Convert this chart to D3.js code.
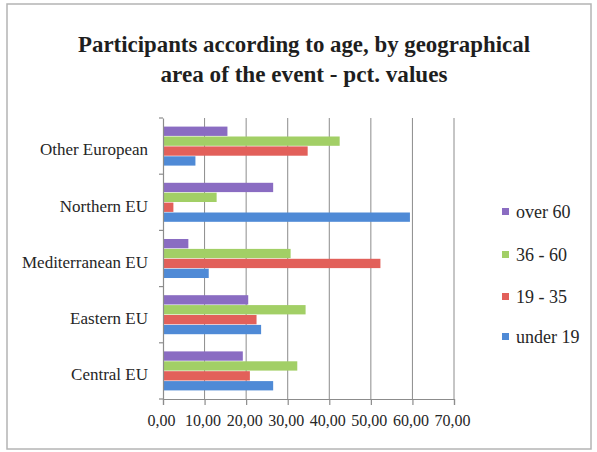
<!DOCTYPE html>
<html>
<head>
<meta charset="utf-8">
<script src="https://cdn.jsdelivr.net/npm/d3@7"></script>
<style>
  html, body { margin: 0; padding: 0; background: #fff; }
  svg { display: block; }
  svg text { font-family: "Liberation Serif", "DejaVu Serif", serif; fill: #262626; }
</style>
</head>
<body>
<div id="chart"></div>
<script>
// ---- data ----
const categories = ["Central EU", "Eastern EU", "Mediterranean EU", "Northern EU", "Other European"];
const seriesNames = ["over 60", "36 - 60", "19 - 35", "under 19"];
const over60   = [19.2, 20.5, 6.1, 26.5, 15.5];
const age36_60 = [32.3, 34.3, 30.7, 12.9, 42.5];
const age19_35 = [20.9, 22.5, 52.3, 2.5, 34.8];
const under19  = [26.5, 23.6, 11.0, 59.4, 7.8];
const xTicks = [0, 10, 20, 30, 40, 50, 60, 70];
const xTickLabels = ["0,00", "10,00", "20,00", "30,00", "40,00", "50,00", "60,00", "70,00"];
const titleLines = ["Participants according to age, by geographical", "area of the event - pct. values"];
const colors = ["#8a6cc2", "#a2cf66", "#e2605a", "#4f8ad6"];

const seriesValues = [over60, age36_60, age19_35, under19];

const W = 597, H = 452;
const svg = d3.select("#chart").append("svg").attr("width", W).attr("height", H);

// outer frame
svg.append("rect").attr("x", 7).attr("y", 4).attr("width", 584).attr("height", 445)
  .attr("fill", "#fff").attr("stroke", "#b4b4b4").attr("stroke-width", 1.5);

// title
svg.append("text").attr("x", 304).attr("y", 52).attr("text-anchor", "middle")
  .attr("font-size", 24).attr("font-weight", "bold").style("fill", "#1e1e1e")
  .attr("textLength", 452).attr("lengthAdjust", "spacingAndGlyphs")
  .text(titleLines[0]);
svg.append("text").attr("x", 304).attr("y", 82).attr("text-anchor", "middle")
  .attr("font-size", 24).attr("font-weight", "bold").style("fill", "#1e1e1e")
  .attr("textLength", 287).attr("lengthAdjust", "spacingAndGlyphs")
  .text(titleLines[1]);

// scales
const x0 = 163, x1 = 454, yTop = 118, yBot = 399;
const x = d3.scaleLinear().domain([0, 70]).range([x0, x1]);
const y = d3.scaleBand().domain(categories.slice().reverse()).range([yTop, yBot]).paddingInner(0).paddingOuter(0);
const ySub = d3.scaleBand().domain(seriesNames).range([8, y.bandwidth() - 8]).padding(0.06);

// gridlines
svg.append("g").selectAll("line").data(xTicks.filter(d => d > 0)).join("line")
  .attr("x1", d => x(d)).attr("x2", d => x(d))
  .attr("y1", yTop).attr("y2", yBot)
  .attr("stroke", "#8c8c8c").attr("stroke-width", 1);

// bars
const barData = [];
categories.forEach((c, i) => {
  seriesNames.forEach((s, j) => {
    barData.push({ cat: c, series: s, value: seriesValues[j][i], color: colors[j] });
  });
});
svg.append("g").selectAll("rect").data(barData).join("rect")
  .attr("x", x(0) + 1)
  .attr("y", d => y(d.cat) + ySub(d.series))
  .attr("width", d => x(d.value) - x(0) - 1)
  .attr("height", ySub.bandwidth())
  .attr("fill", d => d.color);

// y axis
const yAxis = d3.axisLeft(y).tickSize(0).tickPadding(15).tickFormat(d => d);
const gy = svg.append("g").attr("transform", `translate(${x0},0)`).call(yAxis);
gy.select(".domain").attr("stroke", "#8c8c8c").attr("stroke-width", 1.2);
gy.selectAll(".tick text").attr("font-size", 17).attr("dy", "0.55em")
  .style("font-family", '"Liberation Serif", serif');
// category boundary tick marks
const bounds = categories.map(c => y(c)).concat([yBot]);
svg.append("g").selectAll("line").data(bounds).join("line")
  .attr("x1", x0 - 4).attr("x2", x0).attr("y1", d => d).attr("y2", d => d)
  .attr("stroke", "#8c8c8c").attr("stroke-width", 1.2);

// x axis
const xAxis = d3.axisBottom(x).tickValues(xTicks).tickSize(6).tickPadding(10)
  .tickFormat((d, i) => xTickLabels[i]);
const gx = svg.append("g").attr("transform", `translate(0,${yBot})`).call(xAxis);
gx.select(".domain").attr("stroke", "#8c8c8c").attr("stroke-width", 1.2);
gx.selectAll(".tick line").attr("stroke", "#8c8c8c").attr("stroke-width", 1.2);
gx.selectAll(".tick text").attr("font-size", 16).attr("dx", "-2")
  .style("font-family", '"Liberation Serif", serif');

// legend
const legendY = [212, 255, 297, 337];
const lg = svg.append("g").selectAll("g").data(seriesNames).join("g")
  .attr("transform", (d, i) => `translate(502,${legendY[i]})`);
lg.append("rect").attr("x", 0).attr("y", -4).attr("width", 7).attr("height", 7)
  .attr("fill", (d, i) => colors[i]);
lg.append("text").attr("x", 14).attr("y", 0).attr("dy", "0.35em")
  .attr("font-size", 18).style("font-family", '"Liberation Serif", serif').text(d => d);
</script>
</body>
</html>
